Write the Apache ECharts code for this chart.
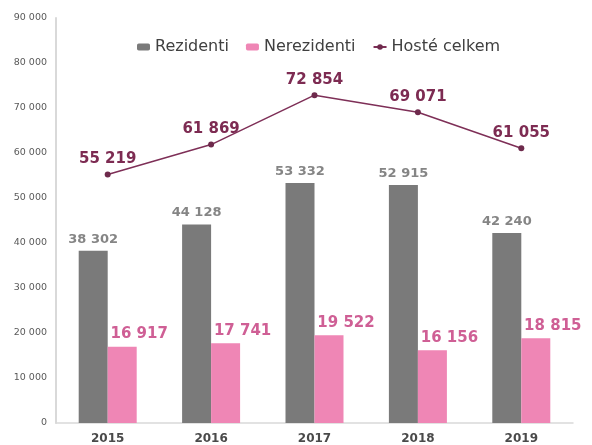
<!DOCTYPE html>
<html>
<head>
<meta charset="utf-8">
<script src="https://cdn.jsdelivr.net/npm/echarts@6/dist/echarts.min.js"></script>
<style>
  html, body { margin: 0; padding: 0; background: #fff; }
  #chart { width: 592px; height: 445px; }
</style>
</head>
<body>
<div id="chart"></div>
<script>
const years = ["2015", "2016", "2017", "2018", "2019"];
const rezidenti = [38302, 44128, 53332, 52915, 42240];
const nerezidenti = [16917, 17741, 19522, 16156, 18815];
const hosteCelkem = [55219, 61869, 72854, 69071, 61055];

const fmt = (v) => String(v).replace(/\B(?=(\d{3})+(?!\d))/g, " ");
const font = "DejaVu Sans";

const chart = echarts.init(document.getElementById("chart"));
chart.setOption({
  animation: false,
  textStyle: { fontFamily: font },
  grid: { left: 56, right: 19, top: 18, bottom: 22 },
  legend: {
    left: 132,
    top: 34,
    itemWidth: 13,
    itemHeight: 7,
    itemGap: 17,
    textStyle: { fontFamily: font, fontSize: 16, color: "#404040" },
    data: ["Rezidenti", "Nerezidenti", "Hosté celkem"]
  },
  xAxis: {
    type: "category",
    data: years,
    axisLine: { lineStyle: { color: "#d9d9d9", width: 1.5 } },
    axisTick: { show: false },
    axisLabel: { fontFamily: font, fontSize: 12, fontWeight: "bold", color: "#4a4a4a", margin: 10 }
  },
  yAxis: {
    type: "value",
    min: 0,
    max: 90000,
    interval: 10000,
    axisLine: { show: true, lineStyle: { color: "#d9d9d9", width: 2 } },
    axisTick: { show: false },
    splitLine: { show: false },
    axisLabel: { fontFamily: font, fontSize: 9.5, color: "#595959", margin: 9, formatter: fmt }
  },
  series: [
    {
      name: "Rezidenti",
      type: "bar",
      data: rezidenti,
      barWidth: 29,
      barGap: "0%",
      itemStyle: { color: "#7a7a7a" },
      label: {
        show: true,
        position: "top",
        fontFamily: font,
        fontSize: 13,
        fontWeight: "bold",
        color: "#858585",
        formatter: (p) => fmt(p.value)
      }
    },
    {
      name: "Nerezidenti",
      type: "bar",
      data: nerezidenti,
      barWidth: 29,
      barGap: "0%",
      itemStyle: { color: "#ef86b5" },
      label: {
        show: true,
        position: "top",
        offset: [17, 0],
        fontFamily: font,
        fontSize: 15,
        fontWeight: "bold",
        color: "#cf5f95",
        formatter: (p) => fmt(p.value)
      }
    },
    {
      name: "Hosté celkem",
      type: "line",
      data: hosteCelkem,
      symbol: "circle",
      symbolSize: 6,
      lineStyle: { color: "#7e2f57", width: 1.5 },
      itemStyle: { color: "#6e2a4c" },
      label: {
        show: true,
        position: "top",
        fontFamily: font,
        fontSize: 15,
        fontWeight: "bold",
        color: "#7d2b52",
        formatter: (p) => fmt(p.value)
      }
    }
  ]
});
</script>
</body>
</html>
